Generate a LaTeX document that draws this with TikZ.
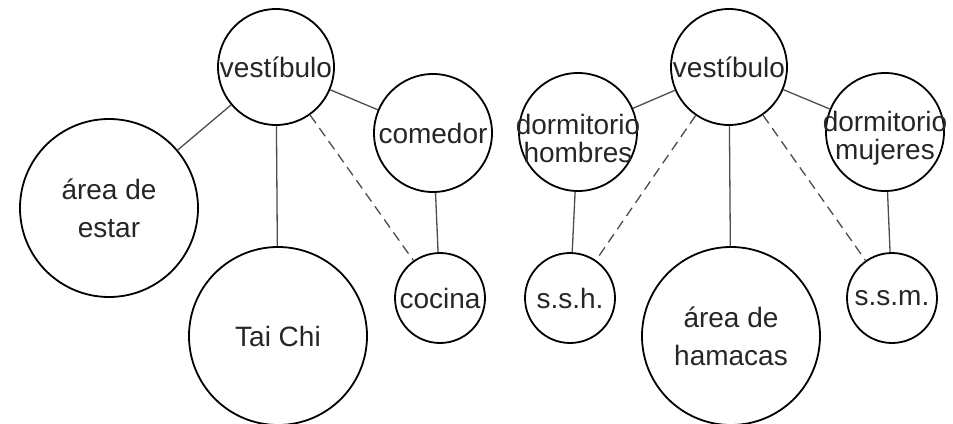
\documentclass[tikz,border=0pt]{standalone}
\usepackage{fontspec}
\setmainfont{Liberation Sans}
\begin{document}
\begin{tikzpicture}[x=1pt,y=-1pt,
  room/.style={circle,draw=black,line width=1.8pt,inner sep=0pt,align=center,
    font=\fontsize{28}{38}\selectfont,text=black!85},
  roomtext/.style={inner sep=0pt,align=center,font=\fontsize{28}{28}\selectfont,text=black!85},
  link/.style={draw=black!70,line width=1.3pt},
  maybe/.style={link,dash pattern=on 10pt off 6pt}]
\useasboundingbox (0,0) rectangle (953,423);
\begin{scope}
\clip (0,0) rectangle (953,423);
% left group
\node[room,minimum size=116pt] (lv) at (276,67) {vestíbulo};
\node[room,minimum size=118pt] (lc) at (433,133) {comedor};
\node[room,minimum size=178pt] (la) at (109,208) {área de\\estar};
\node[room,minimum size=178pt] (lt) at (278,336) {Tai Chi};
\node[room,minimum size=90pt] (lk) at (440,298) {cocina};
% right group
\node[room,minimum size=116pt] (rv) at (729,67) {vestíbulo};
\node[room,minimum size=118pt] (rh) at (578,132) {};
\node[roomtext] (rht) at ([yshift=-6pt]rh.center) {dormitorio\\hombres};
\node[room,minimum size=118pt] (rm) at (885,132) {};
\node[roomtext] (rmt) at ([yshift=-6pt]rm.center) {dormitorio\\mujeres};
\node[room,minimum size=90pt] (rs) at (570,298) {s.s.h.};
\node[room,minimum size=178pt] (ra) at (731,336) {área de\\hamacas};
\node[room,minimum size=90pt] (rw) at (892,298) {s.s.m.};
% connectors
\path[link] (lv) -- (la);
\path[link] (lv) -- (lt);
\path[link] (lv) -- (lc);
\path[maybe] (lv) -- (lk);
\path[link] (lc) -- (lk);
\path[link] (rv) -- (rh);
\path[link] (rv) -- (rm);
\path[link] (rv) -- (ra);
\path[maybe] (rv) -- (rs);
\path[maybe] (rv) -- (rw);
\path[link] (rh) -- (rs);
\path[link] (rm) -- (rw);
\end{scope}
\end{tikzpicture}
\end{document}
